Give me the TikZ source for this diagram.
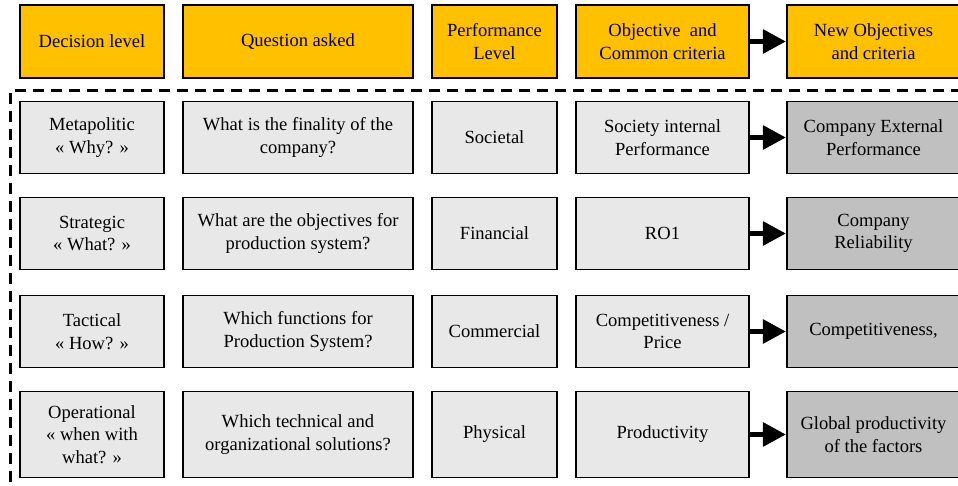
\documentclass[tikz,border=0pt]{standalone}
\usepackage{fontspec}
\setmainfont{Liberation Serif}
\usepackage{tikz}
\usetikzlibrary{positioning, arrows, arrows.meta, shapes}
\definecolor{headorange}{HTML}{FFC000}
\definecolor{cellgray}{HTML}{E8E8E8}
\definecolor{targetgray}{HTML}{C0C0C0}
\tikzstyle{header} = [rectangle, minimum height=1.825cm, align=center, text centered, inner sep=0pt, draw=black, line width=1.4pt, fill=headorange]
\tikzstyle{cell} = [rectangle, minimum height=1.8cm, align=center, text centered, inner sep=0pt, draw=black, line width=1.4pt, fill=cellgray]
\tikzstyle{target} = [rectangle, minimum height=1.8cm, align=center, text centered, inner sep=0pt, draw=black, line width=1.4pt, fill=targetgray]
\tikzstyle{arrow} = [line width=0.14cm, -{Triangle[length=0.58cm, width=0.58cm]}]
\tikzstyle{frame} = [line width=0.075cm, dash pattern=on 0.28cm off 0.17cm]

\begin{document}
\begin{tikzpicture}[node distance=2.4cm, font=\fontsize{13.2}{16.1}\selectfont]
            \useasboundingbox (0,0) rectangle (23.95,-12.15);
            % header row
            \node (decision) [header, minimum width=3.6cm] at (2.3,-1.0375) {Decision level};
            \node (question) [header, minimum width=5.75cm, right of=decision, xshift=2.75cm] {Question asked};
            \node (perflevel) [header, minimum width=3.125cm, right of=question, xshift=2.5125cm] {Performance\\Level};
            \node (objective) [header, minimum width=4.325cm, right of=perflevel, xshift=1.8cm] {Objective \ and\\Common criteria};
            \node (newobj) [header, minimum width=4.325cm, right of=objective, xshift=2.875cm] {New Objectives\\and criteria};

            % decision levels
            \node (metapolitic) [cell, minimum width=3.6cm, below of=decision] {Metapolitic\\« Why? »};
            \node (strategic) [cell, minimum width=3.6cm, below of=metapolitic] {Strategic\\« What? »};
            \node (tactical) [cell, minimum width=3.6cm, below of=strategic, yshift=-0.05cm] {Tactical\\« How? »};
            \node (operational) [cell, minimum width=3.6cm, minimum height=2.15cm, below of=tactical, yshift=-0.175cm] {Operational\\« when with\\what? »};

            % questions
            \node (q_finality) [cell, minimum width=5.75cm, below of=question] {What is the finality of the\\company?};
            \node (q_objectives) [cell, minimum width=5.75cm, below of=q_finality] {What are the objectives for\\production system?};
            \node (q_functions) [cell, minimum width=5.75cm, below of=q_objectives, yshift=-0.05cm] {Which functions for\\Production System?};
            \node (q_solutions) [cell, minimum width=5.75cm, minimum height=2.15cm, below of=q_functions, yshift=-0.175cm] {Which technical and\\organizational solutions?};

            % performance levels
            \node (societal) [cell, minimum width=3.125cm, below of=perflevel] {Societal};
            \node (financial) [cell, minimum width=3.125cm, below of=societal] {Financial};
            \node (commercial) [cell, minimum width=3.125cm, below of=financial, yshift=-0.05cm] {Commercial};
            \node (physical) [cell, minimum width=3.125cm, minimum height=2.15cm, below of=commercial, yshift=-0.175cm] {Physical};

            % common criteria
            \node (internal) [cell, minimum width=4.325cm, below of=objective] {Society internal\\Performance};
            \node (ro1) [cell, minimum width=4.325cm, below of=internal] {RO1};
            \node (competitiveness) [cell, minimum width=4.325cm, below of=ro1, yshift=-0.05cm] {Competitiveness /\\Price};
            \node (productivity) [cell, minimum width=4.325cm, minimum height=2.15cm, below of=competitiveness, yshift=-0.175cm] {Productivity};

            % new criteria
            \node (external) [target, minimum width=4.325cm, below of=newobj] {Company External\\Performance};
            \node (reliability) [target, minimum width=4.325cm, below of=external] {Company\\Reliability};
            \node (new_competitiveness) [target, minimum width=4.325cm, below of=reliability, yshift=-0.05cm] {Competitiveness,};
            \node (global_prod) [target, minimum width=4.325cm, minimum height=2.15cm, below of=new_competitiveness, yshift=-0.175cm] {Global productivity\\of the factors};

            \draw [frame] (24.5,-2.25) -| (0.275,-12.6);

            \draw [arrow] (objective) -- (newobj);
            \draw [arrow] (internal) -- (external);
            \draw [arrow] (ro1) -- (reliability);
            \draw [arrow] (competitiveness) -- (new_competitiveness);
            \draw [arrow] (productivity) -- (global_prod);

\end{tikzpicture}
\end{document}
